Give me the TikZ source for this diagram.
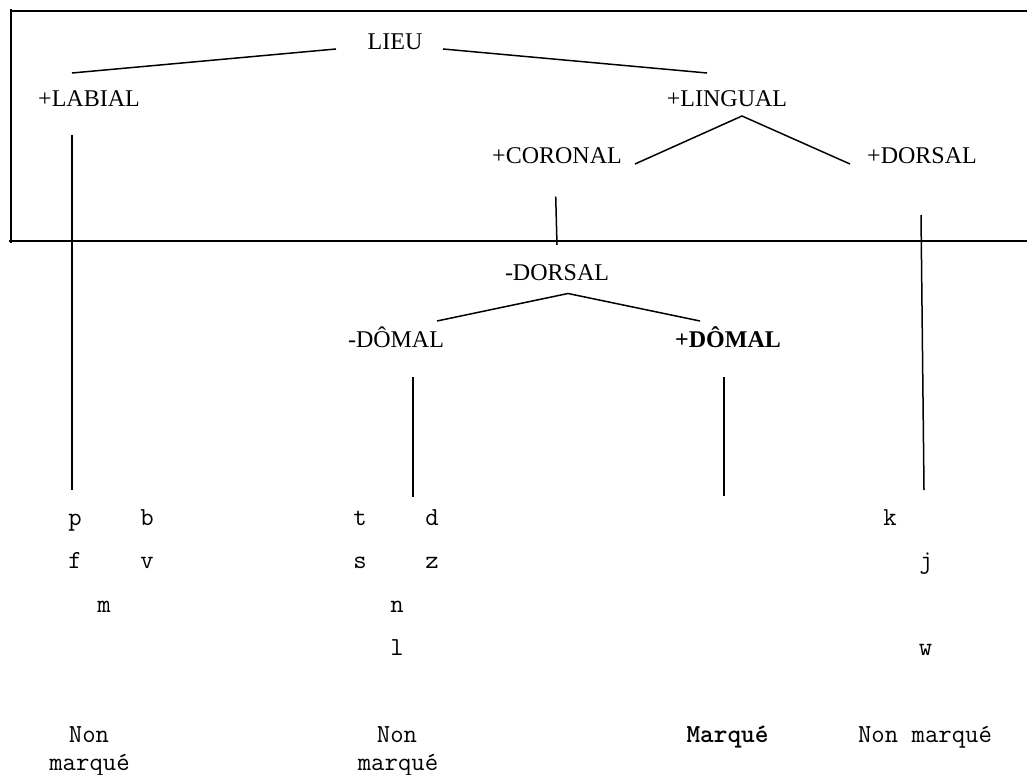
\documentclass[tikz,border=0pt]{standalone}
\usepackage{fontspec}
\setmainfont{Liberation Serif}
\begin{document}
\begin{tikzpicture}[x=1pt,y=-1pt,
  feat/.style={inner sep=0pt,anchor=base,font=\fontsize{24}{28}\selectfont},
  bfeat/.style={feat,font=\fontsize{24}{28}\selectfont\bfseries},
  seg/.style={inner sep=0pt,anchor=base,font=\ttfamily\fontsize{26}{28}\selectfont},
  lbl/.style={inner sep=0pt,anchor=base,font=\ttfamily\fontsize{26}{28}\selectfont},
  branch/.style={line width=1.5pt},
  frame/.style={line width=2pt}]
\useasboundingbox (0,0) rectangle (1027,775);
% frame (open on the right)
\coordinate (fTL) at (11,11);
\coordinate (fTR) at (1027,11);
\coordinate (fLT) at (11,9);
\coordinate (fLB) at (11,243);
\coordinate (fBL) at (9,241.5);
\coordinate (fBR) at (1027,241.5);
\draw[frame] (fTL) -- (fTR);
\draw[frame] (fLT) -- (fLB);
\draw[frame] (fBL) -- (fBR);
% feature nodes
\node[feat] (lieu) at (395,50) {LIEU};
\node[feat] (labial) at (89,107) {+LABIAL};
\node[feat] (lingual) at (727,107) {+LINGUAL};
\node[feat] (coronal) at (557,164) {+CORONAL};
\node[feat] (dorsal) at (922,164) {+DORSAL};
\node[feat] (mdorsal) at (557,281) {-DORSAL};
\node[feat] (mdomal) at (396,347) {-DÔMAL};
\node[bfeat] (pdomal) at (728,347) {+DÔMAL};
% branch end points
\coordinate (lieuL) at (336,49);
\coordinate (lieuR) at (443,49);
\coordinate (labT) at (72,73);
\coordinate (linT) at (707,73);
\coordinate (linB) at (742,116);
\coordinate (corT) at (635,164);
\coordinate (dorT) at (850,164);
\coordinate (corB) at (555.7,196.5);
\coordinate (mdorT) at (557,245);
\coordinate (mdorB) at (568,293.5);
\coordinate (mdomT) at (437,321);
\coordinate (pdomT) at (700,321);
\coordinate (labB) at (72,135);
\coordinate (labE) at (72,490);
\coordinate (dorB) at (921,215);
\coordinate (dorE) at (924,490);
\coordinate (mdomB) at (413,377);
\coordinate (mdomE) at (413,497);
\coordinate (pdomB) at (724,377);
\coordinate (pdomE) at (724,496);
\draw[branch] (lieuL) -- (labT);
\draw[branch] (lieuR) -- (linT);
\draw[branch] (corT) -- (linB) -- (dorT);
\draw[branch] (corB) -- (mdorT);
\draw[branch] (mdomT) -- (mdorB) -- (pdomT);
\draw[branch] (labB) -- (labE);
\draw[branch] (dorB) -- (dorE);
\draw[branch] (mdomB) -- (mdomE);
\draw[branch] (pdomB) -- (pdomE);
% segments
\node[seg] (p) at (75,525) {p};
\node[seg] (b) at (147,525) {b};
\node[seg] (f) at (75,568) {f};
\node[seg] (v) at (147,568) {v};
\node[seg] (m) at (104,612) {m};
\node[seg] (t) at (360,525) {t};
\node[seg] (d) at (432,525) {d};
\node[seg] (s) at (360,568) {s};
\node[seg] (z) at (432,568) {z};
\node[seg] (n) at (397,612) {n};
\node[seg] (l) at (397,655) {l};
\node[seg] (k) at (890,525) {k};
\node[seg] (j) at (926,568) {j};
\node[seg] (w) at (925.5,655) {w};
% markedness labels
\node[lbl] (nm1a) at (89,742) {Non};
\node[lbl] (nm1b) at (89.5,770) {marqué};
\node[lbl] (nm2a) at (397,742) {Non};
\node[lbl] (nm2b) at (398,770) {marqué};
\node[lbl,font=\ttfamily\fontsize{26}{28}\selectfont\bfseries] (mq) at (727.5,742) {Marqué};
\node[lbl] (nm3) at (925,742) {Non marqué};
\end{tikzpicture}
\end{document}
